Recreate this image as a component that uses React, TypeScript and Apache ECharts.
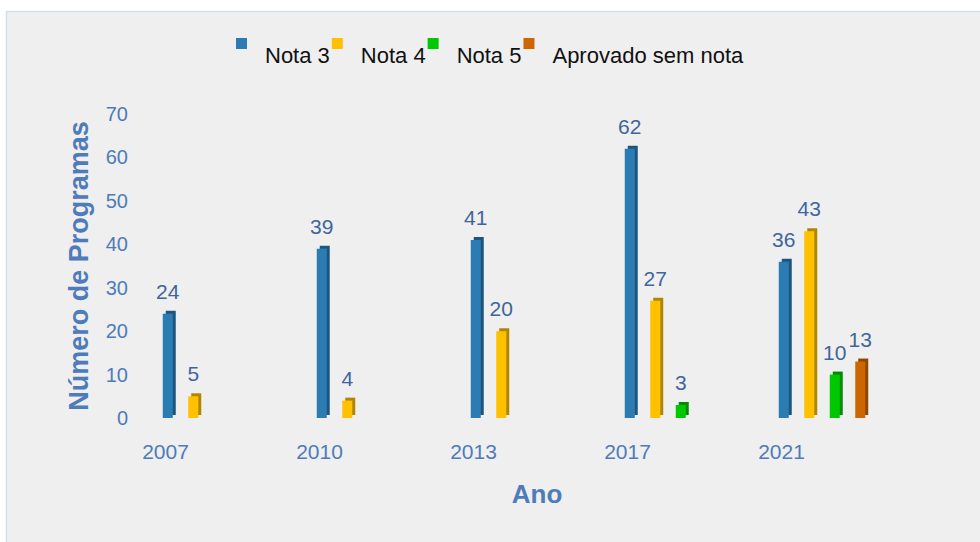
import React, { useEffect, useRef } from "react";
import * as echarts from "echarts";

const categories = ["2007", "2010", "2013", "2017", "2021"];
const nota3 = [24, 39, 41, 62, 36];
const nota4 = [5, 4, 20, 27, 43];
const nota5 = [null, null, null, 3, 10];
const aprovado = [null, null, null, null, 13];
const yTicks = { min: 0, max: 70, interval: 10 };

const FONT = "'Liberation Sans', Arial, sans-serif";
const TICK_COLOR = "#4E7BB9";
const LABEL_COLOR = "#40659C";

const ICON = "path://M0,0H11V11H0Z M23.95,34.95H24V35H23.95Z";

function barSeries(name: string, data: (number | null)[], color: string, side: string) {
  return {
    name,
    type: "bar",
    data,
    barWidth: 10,
    barGap: "155%",
    itemStyle: {
      color,
      shadowColor: side,
      shadowOffsetX: 3,
      shadowOffsetY: -3,
      shadowBlur: 0,
    },
    label: {
      show: true,
      position: "top",
      distance: 12,
      color: LABEL_COLOR,
      fontSize: 21,
      fontFamily: FONT,
    },
  };
}

export default function App() {
  const ref = useRef<HTMLDivElement>(null);
  useEffect(() => {
    if (!ref.current) return;
    const chart = echarts.init(ref.current, undefined, { renderer: "svg" });
    chart.setOption({
      animation: false,
      backgroundColor: "#ffffff",
      textStyle: { fontFamily: FONT },
      graphic: [
        {
          type: "rect",
          z: -10,
          silent: true,
          shape: { x: 6.5, y: 11.5, width: 1000, height: 560 },
          style: { fill: "#EFEFEF", stroke: "#D3DEEB", lineWidth: 1.5 },
        },
        {
          type: "text",
          x: 537,
          y: 494,
          style: {
            text: "Ano",
            fill: TICK_COLOR,
            font: `bold 26px ${FONT}`,
            align: "center",
            verticalAlign: "middle",
          },
        },
      ],
      legend: {
        left: 236,
        top: 38,
        padding: 0,
        itemWidth: 24,
        itemHeight: 35,
        itemGap: 2,
        icon: ICON,
        textStyle: { color: "#111111", fontSize: 22, fontFamily: FONT },
        data: ["Nota 3", "Nota 4", "Nota 5", "Aprovado sem nota"],
      },
      grid: { left: 129, right: 81, top: 114, bottom: 124, containLabel: false },
      xAxis: {
        type: "category",
        data: categories,
        axisLine: { show: false },
        axisTick: { show: false },
        axisLabel: {
          color: TICK_COLOR,
          fontSize: 21,
          fontFamily: FONT,
          margin: 23,
          padding: [0, 81, 0, 0],
        },
      },
      yAxis: {
        type: "value",
        min: yTicks.min,
        max: yTicks.max,
        interval: yTicks.interval,
        axisLine: { show: false },
        axisTick: { show: false },
        splitLine: { show: false },
        axisLabel: {
          color: TICK_COLOR,
          fontSize: 20,
          fontFamily: FONT,
          margin: 1,
          padding: [8, 0, 0, 0],
        },
        name: "Número de Programas",
        nameLocation: "middle",
        nameGap: 37,
        nameTextStyle: {
          color: TICK_COLOR,
          fontSize: 27,
          fontWeight: "bold",
          fontFamily: FONT,
        },
      },
      series: [
        barSeries("Nota 3", nota3, "#2C7BB3", "#1D577F"),
        barSeries("Nota 4", nota4, "#FFC000", "#B08500"),
        barSeries("Nota 5", nota5, "#00C800", "#008C00"),
        barSeries("Aprovado sem nota", aprovado, "#CC6600", "#8C4600"),
      ],
    });
    return () => chart.dispose();
  }, []);
  return (
    <div
      ref={ref}
      style={{ position: "absolute", left: 0, top: 0, width: 980, height: 542 }}
    />
  );
}
